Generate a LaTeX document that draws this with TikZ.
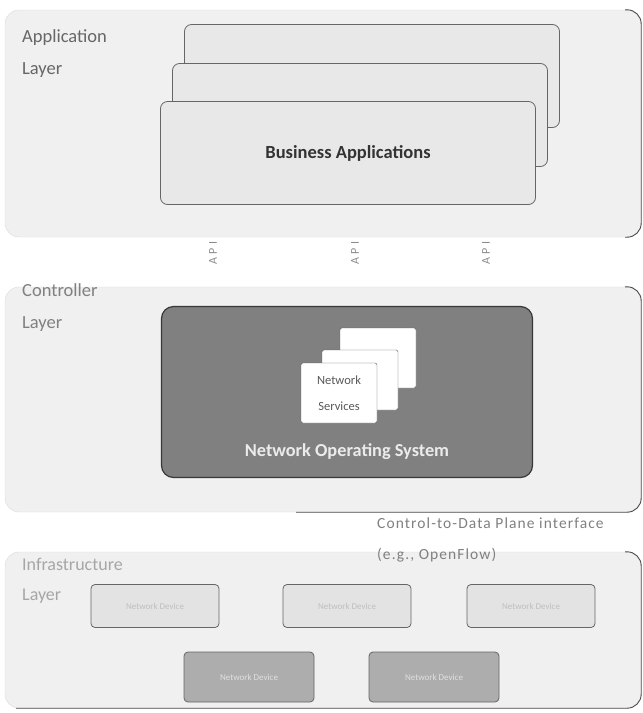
\documentclass[tikz,border=0pt]{standalone}
\usepackage{fontspec}
\setmainfont{Carlito}
\usetikzlibrary{positioning}

\begin{document}
\begin{tikzpicture}[x=1pt,y=-1pt,
  panel/.style={rounded corners=14pt,fill=black!6,draw=black!14,minimum width=636pt},
  paneledge/.style={draw=black!70,line width=0.9pt,rounded corners=14pt},
  layerlabel/.style={anchor=north west,align=left,inner sep=0pt,font=\fontsize{18.5}{32}\selectfont},
  appbox/.style={rounded corners=7pt,fill=black!9,draw=black!60,line width=0.8pt,minimum width=375pt,minimum height=103pt},
  svcbox/.style={rounded corners=2pt,fill=white,draw=black!65,minimum width=76pt,minimum height=60pt},
  devbox/.style={rounded corners=4pt,draw=black!60,line width=0.8pt,font=\fontsize{9}{10}\selectfont},
  apilabel/.style={rotate=90,text=black!45,font=\fontsize{12}{12}\selectfont\addfontfeatures{LetterSpace=25}},
  iflabel/.style={anchor=west,inner sep=0pt,text=black!50,font=\fontsize{15.5}{17}\selectfont\addfontfeatures{LetterSpace=7}}]
\useasboundingbox (0,0) rectangle (643,713);

% layers
\node[panel,minimum height=227pt] (appL) at (323,123.5) {};
\node[panel,minimum height=225pt] (ctrlL) at (323,399.5) {};
\node[panel,minimum height=156pt] (infraL) at (323,630) {};
\draw[paneledge] ([xshift=-16pt]appL.north east) -- (appL.north east) -- (appL.south east) -- ([xshift=-16pt]appL.south east);
\draw[paneledge] ([xshift=-16pt]ctrlL.north east) -- (ctrlL.north east) -- (ctrlL.south east) -- ([xshift=-345pt]ctrlL.south east);
\draw[paneledge] ([xshift=-16pt]infraL.north east) -- (infraL.north east) -- (infraL.south east) -- ([xshift=-625pt]infraL.south east);

\node[layerlabel,text=black!60] (appT) at (22,29) {Application\\Layer};
\node[layerlabel,text=black!50] (ctrlT) at (22,283) {Controller\\Layer};
\node[layerlabel,text=black!35,font=\fontsize{18}{30}\selectfont] (infraT) at (22,558) {Infrastructure\\Layer};

% application stack
\node[appbox] (app3) at (372,76) {};
\node[appbox] (app2) at (360,115) {};
\node[appbox,font=\fontsize{18.5}{20}\selectfont\bfseries,text=black!80] (app1) at (348,153) {Business Applications};

\node[apilabel] (api1) at (213,253) {API};
\node[apilabel] (api2) at (355,253) {API};
\node[apilabel] (api3) at (486,253) {API};

% controller
\node[rounded corners=12pt,fill=black!50,draw=black!78,line width=1.2pt,minimum width=371pt,minimum height=171pt] (nos) at (347,392) {};
\node[svcbox] (svc3) at (378,358) {};
\node[svcbox] (svc2) at (360,380) {};
\node[svcbox,align=center,text=black!65,font=\fontsize{12.5}{26}\selectfont] (svc1) at (339,393) {Network\\Services};
\node[text=black!8,font=\fontsize{18.3}{20}\selectfont\bfseries] (nosT) at (347,452) {Network Operating System};

\node[iflabel] (cdpi) at (377,523) {Control-to-Data Plane interface};
\node[iflabel] (ofT) at (377,555) {(e.g., OpenFlow)};

% network devices
\node[devbox,fill=black!11,text=black!25,minimum width=128pt,minimum height=43pt] (dev1) at (155,606) {Network Device};
\node[devbox,fill=black!11,text=black!25,minimum width=128pt,minimum height=43pt] (dev2) at (347,606) {Network Device};
\node[devbox,fill=black!11,text=black!25,minimum width=128pt,minimum height=43pt] (dev3) at (531,606) {Network Device};
\node[devbox,fill=black!32,text=black!12,minimum width=130pt,minimum height=50pt] (dev4) at (249,677) {Network Device};
\node[devbox,fill=black!32,text=black!12,minimum width=130pt,minimum height=50pt] (dev5) at (434,677) {Network Device};
\end{tikzpicture}
\end{document}
